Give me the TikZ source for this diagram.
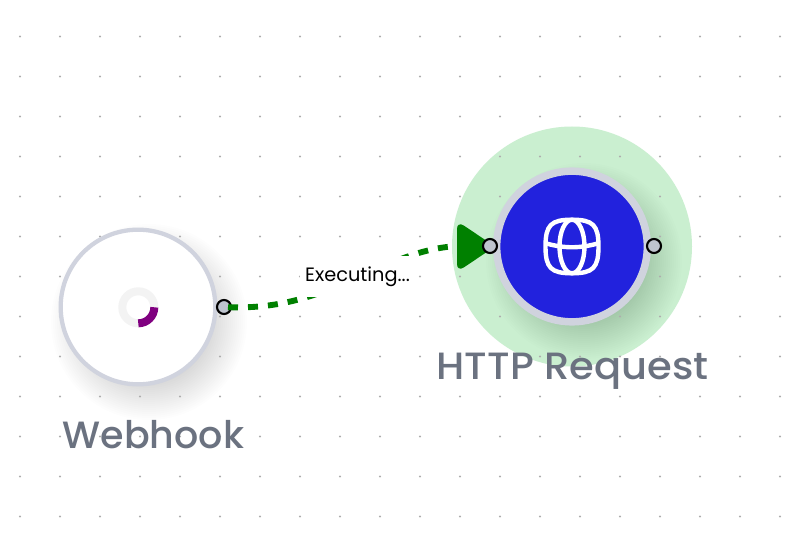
\documentclass[tikz,border=0pt]{standalone}
\usepackage{fontspec}
\setmainfont{Poppins}
\newfontfamily\labelfont[UprightFont=* Medium]{Poppins}
\definecolor{ringgray}{HTML}{D0D3DE}
\definecolor{haloGreen}{HTML}{CAEFD0}
\definecolor{nodeblue}{HTML}{2222DD}
\definecolor{portgray}{HTML}{BEC4CE}
\definecolor{labelgray}{HTML}{6B7280}
\definecolor{wiregreen}{HTML}{008000}
\definecolor{spinpurple}{HTML}{800080}
\definecolor{spingray}{HTML}{F3F3F3}
\tikzset{
    basenode/.style={circle, draw=ringgray, inner sep=0pt},
    port/.style={circle, draw=black, fill=portgray, line width=1.6pt, minimum size=10.5pt, inner sep=0pt},
    nodelabel/.style={text=labelgray, font=\labelfont\fontsize{28.5}{32}\selectfont, anchor=base, inner sep=0pt},
    griddot/.style={fill=black!32, draw=none},
    iconline/.style={white, line width=3.3pt}
}
\begin{document}
\begin{tikzpicture}[x=0.75pt, y=-0.75pt]
        \useasboundingbox (0,0) rectangle (790,535);
        \fill[white] (0,0) rectangle (790,535);
        \fill[haloGreen] (572,246.5) circle (120);
        % soft shadows
        \foreach \r in {60,62,...,98} {
            \fill[black, opacity=0.009] (149,322) circle (\r);
            \fill[black, opacity=0.009] (584,261) circle (\r);
        }
        \foreach \x in {20,60,...,780} {
            \foreach \y in {36.5,76.5,...,516.5} {
                \fill[griddot] (\x,\y) circle (1.2);
            }
        }
        \node[basenode, fill=white, line width=3.2pt, minimum size=116pt] (webhook) at (138,307) {};
        \node[basenode, fill=nodeblue, line width=5.6pt, minimum size=113pt] (http) at (572,246.5) {};
        \node[port] (webhookout) at (224,307) {};
        \node[port] (httpout) at (654,246) {};
        \coordinate (headback) at (458,246);
        % wire, label box on top of it
        \draw[wiregreen, line width=4.4pt, dash pattern=on 7.5pt off 7.5pt, dash phase=12pt] (webhookout.center) .. controls (330,313) and (380,250) .. (headback);
        \node[fill=white, minimum width=86pt, minimum height=31pt, inner sep=0pt] (wirebox) at (357.5,276.5) {};
        \node[font=\fontsize{14.5}{16}\selectfont, inner sep=0pt] (wiretext) at (357.5,276.5) {Executing...};
        \fill[wiregreen, rounded corners=6pt] (457,221) -- (495,246.5) -- (457,272) -- cycle;
        \node[port] (httpin) at (490,246) {};
        % spinner
        \draw[spingray, line width=6pt] (138.3,307.3) circle (16);
        \draw[spinpurple, line width=6pt] (154.3,307.3) arc[start angle=0, end angle=90, radius=16];
        % globe icon
        \draw[iconline] (545.5,246.5) .. controls (545.5,225) and (551,219.7) .. (572,219.7) .. controls (593,219.7) and (598.5,225) .. (598.5,246.5) .. controls (598.5,268) and (593,273.3) .. (572,273.3) .. controls (551,273.3) and (545.5,268) .. (545.5,246.5) -- cycle;
        \draw[iconline] (572,246.5) ellipse (12.5 and 26.8);
        \draw[iconline] (546.5,243.5) .. controls (564,248.5) and (580,248.5) .. (597.5,243.5);
        \node[nodelabel] (webhooklabel) at (153.5,448) {Webhook};
        \node[nodelabel] (httplabel) at (572.5,379) {\scalebox{1.053}[1]{HTTP Request}};
    \end{tikzpicture}
\end{document}
